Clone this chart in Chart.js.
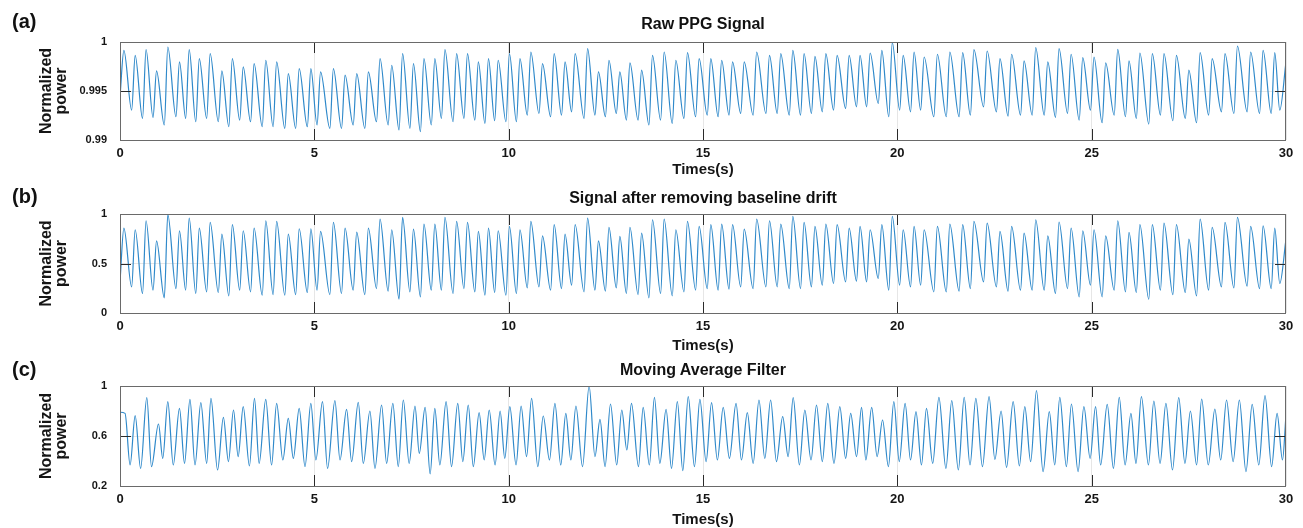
<!DOCTYPE html>
<html>
<head>
<meta charset="utf-8">
<script src="https://cdn.jsdelivr.net/npm/chart.js@4.4.1/dist/chart.umd.min.js"></script>
<style>
  body { margin: 0; background: #fff; }
  #wrap { position: relative; width: 1303px; height: 528px; background: #fff; overflow: hidden; }
  canvas { position: absolute; left: 0; }
  .lbl { position: absolute; left: 12px; font: bold 20px "Liberation Sans", Arial, sans-serif; line-height: 24px; color: #111; }
  .ttl { position: absolute; left: 120px; width: 1166px; text-align: center; font: bold 16px "Liberation Sans", Arial, sans-serif; line-height: 20px; color: #111; }
</style>
</head>
<body>
<div id="wrap">
  <canvas id="c1" width="1303" height="177" style="top:0;width:1303px;height:177px"></canvas>
  <canvas id="c2" width="1303" height="178" style="top:175px;width:1303px;height:178px"></canvas>
  <canvas id="c3" width="1303" height="177" style="top:350px;width:1303px;height:177px"></canvas>
  <div class="lbl" style="top:9px">(a)</div>
  <div class="lbl" style="top:184px">(b)</div>
  <div class="lbl" style="top:357px">(c)</div>
  <div class="ttl" style="top:14px">Raw PPG Signal</div>
  <div class="ttl" style="top:188px">Signal after removing baseline drift</div>
  <div class="ttl" style="top:360px">Moving Average Filter</div>
</div>
<script>
// x axis (seconds)
const timeTicks = [0, 5, 10, 15, 20, 25, 30];

// beat peaks / troughs (a) and (b) (same beats)
const rawPeakTimes = [
  0.10, 0.39, 0.67, 0.94, 1.23, 1.53, 1.78, 2.04, 2.32, 2.62,
  2.89, 3.17, 3.45, 3.75, 4.03, 4.33, 4.61, 4.91, 5.16, 5.49,
  5.79, 6.09, 6.39, 6.69, 6.99, 7.27, 7.55, 7.82, 8.10, 8.36,
  8.66, 8.94, 9.22, 9.48, 9.73, 10.02, 10.29, 10.57, 10.87, 11.17,
  11.45, 11.71, 12.03, 12.31, 12.58, 12.86, 13.12, 13.42, 13.70, 14.00,
  14.30, 14.60, 14.90, 15.20, 15.48, 15.76, 16.06, 16.38, 16.71, 17.00,
  17.31, 17.60, 17.88, 18.16, 18.45, 18.76, 19.04, 19.30, 19.60, 19.87,
  20.15, 20.43, 20.69, 21.03, 21.35, 21.68, 21.97, 22.31, 22.64, 22.94,
  23.26, 23.56, 23.87, 24.16, 24.47, 24.77, 25.06, 25.36, 25.67, 25.96,
  26.24, 26.56, 26.86, 27.18, 27.50, 27.79, 28.10, 28.43, 28.75, 29.09,
  29.41, 29.71
];
const rawTroughTimes = [
  0.30, 0.58, 0.85, 1.14, 1.44, 1.69, 1.95, 2.23, 2.53, 2.80,
  3.08, 3.36, 3.66, 3.94, 4.24, 4.52, 4.82, 5.07, 5.40, 5.70,
  6.00, 6.30, 6.60, 6.90, 7.18, 7.46, 7.73, 8.01, 8.27, 8.57,
  8.85, 9.13, 9.39, 9.64, 9.93, 10.20, 10.48, 10.78, 11.08, 11.36,
  11.62, 11.94, 12.22, 12.49, 12.77, 13.03, 13.33, 13.61, 13.91, 14.21,
  14.51, 14.81, 15.11, 15.39, 15.67, 15.97, 16.29, 16.62, 16.91, 17.22,
  17.51, 17.79, 18.07, 18.36, 18.67, 18.95, 19.21, 19.51, 19.78, 20.06,
  20.34, 20.60, 20.94, 21.26, 21.59, 21.88, 22.22, 22.55, 22.85, 23.17,
  23.47, 23.78, 24.07, 24.38, 24.68, 24.97, 25.27, 25.58, 25.87, 26.15,
  26.47, 26.77, 27.09, 27.41, 27.70, 28.01, 28.34, 28.66, 29.00, 29.32,
  29.62, 29.84
];

// (a) raw PPG
const rawEnds = [0.9944, 0.99797];
const rawPeaks = [
  0.99915, 0.99864, 0.99922, 0.99705, 0.99949, 0.99797, 0.99922, 0.99831, 0.99881, 0.99705,
  0.99831, 0.99746, 0.99780, 0.99814, 0.99797, 0.99678, 0.99729, 0.99729, 0.99695, 0.99729,
  0.99661, 0.99678, 0.99695, 0.99831, 0.99763, 0.99881, 0.99780, 0.99831, 0.99831,
  0.99922, 0.99881, 0.99881, 0.99797, 0.99831, 0.99814, 0.99881, 0.99831, 0.99898, 0.99780,
  0.99881, 0.99797, 0.99881, 0.99932, 0.99695, 0.99814, 0.99695, 0.99786, 0.99712, 0.99864,
  0.99898, 0.99814, 0.99892, 0.99831, 0.99831, 0.99814, 0.99797, 0.99797, 0.99898, 0.99864,
  0.99881, 0.99915, 0.99881, 0.99854, 0.99881, 0.99864, 0.99864, 0.99864,
  0.99888, 0.99915, 0.99995, 0.99864, 0.99898, 0.99847, 0.99875, 0.99898, 0.99892, 0.99922,
  0.99908, 0.99831, 0.99875, 0.99807, 0.99942, 0.99797, 0.99932, 0.99875, 0.99841, 0.99847,
  0.99786, 0.99925, 0.99807, 0.99888, 0.99881, 0.99881, 0.99864, 0.99712, 0.99892, 0.99831,
  0.99881, 0.99959, 0.99898, 0.99915, 0.99892
];
const rawTroughs = [
  0.99305, 0.99220, 0.99231, 0.99153, 0.99237, 0.99220, 0.99186, 0.99220, 0.99186, 0.99136,
  0.99203, 0.99186, 0.99136, 0.99136, 0.99119, 0.99119, 0.99136, 0.99153, 0.99119, 0.99119,
  0.99153, 0.99119, 0.99186, 0.99153, 0.99102, 0.99119, 0.99085, 0.99153,
  0.99220, 0.99186, 0.99220, 0.99203, 0.99169, 0.99197, 0.99186, 0.99186, 0.99254, 0.99271,
  0.99237, 0.99254, 0.99288, 0.99220, 0.99254, 0.99237, 0.99271, 0.99203, 0.99203, 0.99153,
  0.99203, 0.99169, 0.99220, 0.99237, 0.99254, 0.99237, 0.99254, 0.99271, 0.99254, 0.99271,
  0.99271, 0.99254, 0.99254, 0.99271, 0.99288, 0.99305, 0.99322, 0.99339,
  0.99339, 0.99373, 0.99237, 0.99305, 0.99288, 0.99305, 0.99237, 0.99237, 0.99237, 0.99254,
  0.99339, 0.99288, 0.99244, 0.99254, 0.99254, 0.99254, 0.99231, 0.99271, 0.99203, 0.99305,
  0.99176, 0.99254, 0.99237, 0.99220, 0.99163, 0.99254, 0.99197, 0.99220, 0.99176, 0.99254,
  0.99288, 0.99271, 0.99288, 0.99271, 0.99271, 0.99305
];

// (b) after removing baseline drift
const driftEnds = [0.315, 0.746];
const driftPeaks = [
  0.858, 0.841, 0.932, 0.729, 0.993, 0.831, 0.959, 0.858, 0.915, 0.797,
  0.892, 0.831, 0.858, 0.932, 0.925, 0.797, 0.851, 0.851, 0.824, 0.915,
  0.858, 0.817, 0.858, 0.949, 0.841, 0.966, 0.847, 0.898, 0.898,
  0.966, 0.925, 0.915, 0.824, 0.858, 0.831, 0.875, 0.841, 0.925, 0.780,
  0.892, 0.797, 0.892, 0.959, 0.729, 0.864, 0.773, 0.864, 0.807, 0.942,
  0.949, 0.841, 0.925, 0.875, 0.892, 0.898, 0.892, 0.847, 0.949, 0.932,
  0.898, 0.976, 0.915, 0.875, 0.898, 0.892, 0.858, 0.875,
  0.841, 0.892, 0.976, 0.841, 0.875, 0.841, 0.875, 0.898, 0.892, 0.925,
  0.908, 0.824, 0.875, 0.807, 0.942, 0.780, 0.919, 0.858, 0.831, 0.841,
  0.780, 0.932, 0.814, 0.892, 0.892, 0.908, 0.892, 0.746, 0.949, 0.864,
  0.915, 0.966, 0.875, 0.881, 0.858
];
const driftTroughs = [
  0.264, 0.197, 0.231, 0.153, 0.247, 0.231, 0.197, 0.214, 0.207, 0.173,
  0.231, 0.214, 0.180, 0.186, 0.180, 0.186, 0.207, 0.231, 0.186, 0.197,
  0.231, 0.186, 0.247, 0.220, 0.139, 0.214, 0.163, 0.231,
  0.231, 0.197, 0.247, 0.214, 0.180, 0.207, 0.180, 0.197, 0.254, 0.264,
  0.231, 0.247, 0.281, 0.214, 0.231, 0.220, 0.254, 0.197, 0.186, 0.153,
  0.197, 0.173, 0.214, 0.231, 0.247, 0.231, 0.241, 0.264, 0.247, 0.264,
  0.264, 0.247, 0.247, 0.264, 0.281, 0.298, 0.315, 0.322,
  0.315, 0.349, 0.231, 0.281, 0.264, 0.281, 0.214, 0.214, 0.220, 0.247,
  0.315, 0.264, 0.220, 0.231, 0.231, 0.231, 0.197, 0.247, 0.163, 0.281,
  0.163, 0.231, 0.214, 0.207, 0.139, 0.231, 0.186, 0.207, 0.173, 0.231,
  0.264, 0.254, 0.271, 0.247, 0.247, 0.298
];

// (c) moving average filter
const avgEnds = [0.79, 0.768];
const avgPeakTimes = [
  0.13, 0.39, 0.69, 0.99, 1.23, 1.53, 1.80, 2.08, 2.34, 2.66,
  2.92, 3.17, 3.46, 3.75, 4.03, 4.33, 4.61, 4.91, 5.21, 5.53,
  5.83, 6.13, 6.43, 6.73, 7.02, 7.29, 7.59, 7.85, 8.10,
  8.39, 8.69, 8.96, 9.24, 9.50, 9.78, 10.03, 10.32, 10.59, 10.89,
  11.19, 11.47, 11.73, 12.07, 12.35, 12.62, 12.91, 13.16, 13.46, 13.75,
  14.05, 14.34, 14.62, 14.92, 15.22, 15.52, 15.85, 16.14, 16.44, 16.74,
  17.05, 17.32, 17.62, 17.92, 18.21, 18.52, 18.80, 19.08,
  19.34, 19.62, 19.91, 20.20, 20.48, 20.75, 21.07, 21.40, 21.72, 22.02,
  22.36, 22.67, 22.98, 23.28, 23.58, 23.91, 24.18, 24.48, 24.80, 25.10,
  25.40, 25.71, 26.01, 26.28, 26.60, 26.91, 27.24, 27.54, 27.83, 28.17,
  28.47, 28.80, 29.13, 29.46, 29.77
];
const avgTroughTimes = [
  0.26, 0.53, 0.81, 1.10, 1.37, 1.66, 1.93, 2.23, 2.51, 2.79,
  3.04, 3.33, 3.58, 3.90, 4.19, 4.46, 4.76, 5.04, 5.34, 5.66,
  5.96, 6.26, 6.56, 6.86, 7.16, 7.44, 7.70, 7.98,
  8.23, 8.53, 8.82, 9.09, 9.37, 9.65, 9.90, 10.19, 10.46, 10.75,
  11.05, 11.34, 11.60, 11.90, 12.22, 12.48, 12.78, 13.04, 13.34, 13.62,
  13.89, 14.19, 14.48, 14.78, 15.08, 15.37, 15.68, 15.99, 16.29, 16.59,
  16.89, 17.19, 17.48, 17.78, 18.07, 18.37, 18.67, 18.95,
  19.19, 19.48, 19.77, 20.05, 20.34, 20.62, 20.91, 21.25, 21.57, 21.87,
  22.19, 22.51, 22.81, 23.14, 23.43, 23.75, 24.05, 24.35, 24.65, 24.96,
  25.23, 25.56, 25.86, 26.14, 26.46, 26.76, 27.08, 27.40, 27.70, 28.00,
  28.32, 28.64, 28.97, 29.30, 29.63, 29.91
];
const avgPeaks = [
  0.781, 0.763, 0.907, 0.696, 0.875, 0.821, 0.893, 0.867, 0.901, 0.749,
  0.808, 0.835, 0.901, 0.893, 0.861, 0.741, 0.821, 0.861, 0.875, 0.883,
  0.813, 0.869, 0.800, 0.848, 0.861, 0.888, 0.840, 0.829, 0.821,
  0.875, 0.861, 0.848, 0.787, 0.808, 0.800, 0.835, 0.840, 0.901, 0.760,
  0.861, 0.781, 0.840, 1.000, 0.733, 0.856, 0.808, 0.861, 0.829, 0.909,
  0.813, 0.875, 0.915, 0.893, 0.867, 0.829, 0.861, 0.787, 0.888, 0.888,
  0.755, 0.907, 0.808, 0.848, 0.861, 0.835, 0.781, 0.829,
  0.829, 0.728, 0.875, 0.861, 0.795, 0.821, 0.909, 0.883, 0.909, 0.901,
  0.915, 0.800, 0.875, 0.835, 0.963, 0.795, 0.909, 0.856, 0.835, 0.835,
  0.853, 0.909, 0.781, 0.915, 0.880, 0.861, 0.907, 0.800, 0.896, 0.816,
  0.888, 0.888, 0.853, 0.923, 0.781
];
const avgTroughs = [
  0.368, 0.341, 0.355, 0.421, 0.368, 0.381, 0.368, 0.381, 0.328, 0.395,
  0.435, 0.360, 0.381, 0.368, 0.408, 0.421, 0.355, 0.408, 0.341, 0.408,
  0.395, 0.381, 0.341, 0.381, 0.355, 0.381, 0.461, 0.296,
  0.368, 0.355, 0.395, 0.355, 0.408, 0.368, 0.421, 0.368, 0.435, 0.355,
  0.408, 0.368, 0.408, 0.355, 0.435, 0.355, 0.368, 0.488, 0.355, 0.368,
  0.381, 0.341, 0.323, 0.355, 0.395, 0.408, 0.421, 0.408, 0.381, 0.421,
  0.395, 0.435, 0.368, 0.408, 0.395, 0.381, 0.421, 0.435,
  0.408, 0.435, 0.355, 0.395, 0.408, 0.368, 0.381, 0.341, 0.328, 0.368,
  0.355, 0.413, 0.349, 0.360, 0.395, 0.315, 0.368, 0.355, 0.315, 0.421,
  0.368, 0.341, 0.368, 0.381, 0.368, 0.381, 0.328, 0.381, 0.368, 0.368,
  0.408, 0.395, 0.315, 0.368, 0.355, 0.408
];

const rawTicks = [0.99, 0.995, 1];
const driftTicks = [0, 0.5, 1];
const avgTicks = [0.2, 0.6, 1];

const FONT = '"Liberation Sans", Arial, sans-serif';
const lineColor = '#2f89ca';

function buildSeries(ends, peakT, peakV, troughT, troughV) {
  const pts = [{ x: 0, y: ends[0] }];
  for (let i = 0; i < peakT.length; i++) {
    pts.push({ x: peakT[i], y: peakV[i] });
    pts.push({ x: troughT[i], y: troughV[i] });
  }
  pts.push({ x: 30, y: ends[1] });
  return pts;
}

// MATLAB-like box with inward tick marks
const framePlugin = {
  id: 'frame',
  afterDraw(chart) {
    const { ctx, chartArea: a, scales } = chart;
    const tl = 11;
    ctx.save();
    ctx.strokeStyle = '#2b2b2b';
    ctx.lineWidth = 1;
    scales.x.ticks.forEach(t => {
      if (t.value <= 0 || t.value >= 30) return;
      const px = Math.round(scales.x.getPixelForValue(t.value)) + 0.5;
      ctx.beginPath();
      ctx.moveTo(px, a.bottom); ctx.lineTo(px, a.bottom - tl);
      ctx.moveTo(px, a.top); ctx.lineTo(px, a.top + tl);
      ctx.stroke();
    });
    const yt = scales.y.ticks;
    yt.slice(1, -1).forEach(t => {
      const py = Math.round(scales.y.getPixelForValue(t.value)) + 0.5;
      ctx.beginPath();
      ctx.moveTo(a.left, py); ctx.lineTo(a.left + tl, py);
      ctx.moveTo(a.right, py); ctx.lineTo(a.right - tl, py);
      ctx.stroke();
    });
    ctx.strokeStyle = '#6a6a6a';
    ctx.strokeRect(Math.round(a.left) + 0.5, Math.round(a.top) + 0.5,
      Math.round(a.right - a.left) - 1, Math.round(a.bottom - a.top));
    ctx.restore();
  }
};

function makePanel(id, points, yTicks, plotTop, plotBottom, canvasH) {
  const ctx = document.getElementById(id).getContext('2d');
  return new Chart(ctx, {
    type: 'line',
    data: {
      datasets: [{
        data: points,
        borderColor: lineColor,
        borderWidth: 1.2,
        pointRadius: 0,
        fill: false,
        cubicInterpolationMode: 'monotone'
      }]
    },
    options: {
      responsive: false,
      animation: false,
      devicePixelRatio: 1,
      layout: { padding: { left: 39, right: 17, top: plotTop, bottom: 0 } },
      plugins: { legend: { display: false }, tooltip: { enabled: false } },
      scales: {
        x: {
          type: 'linear',
          min: 0,
          max: 30,
          afterBuildTicks: s => { s.ticks = timeTicks.map(v => ({ value: v })); },
          afterFit: s => { s.height = canvasH - plotBottom; },
          grid: { color: '#e6e6e6', drawTicks: false },
          border: { display: false },
          ticks: {
            padding: 6,
            maxRotation: 0,
            color: '#151515',
            font: { family: FONT, size: 13, weight: 'bold' },
            callback: v => String(v)
          },
          title: {
            display: true,
            text: 'Times(s)',
            color: '#151515',
            padding: { top: 0, bottom: 0 },
            font: { family: FONT, size: 15, weight: 'bold', lineHeight: 1 }
          }
        },
        y: {
          min: yTicks[0],
          max: yTicks[yTicks.length - 1],
          afterBuildTicks: s => { s.ticks = yTicks.map(v => ({ value: v })); },
          afterFit: s => { s.width = 81; },
          grid: { color: '#e6e6e6', drawTicks: false },
          border: { display: false },
          ticks: {
            padding: 13,
            color: '#151515',
            font: { family: FONT, size: 11, weight: 'bold' },
            callback: v => String(v)
          },
          title: {
            display: true,
            text: ['Normalized', 'power'],
            color: '#151515',
            padding: { top: 0, bottom: 0 },
            font: { family: FONT, size: 16, weight: 'bold', lineHeight: '15px' }
          }
        }
      }
    },
    plugins: [framePlugin]
  });
}

makePanel('c1', buildSeries(rawEnds, rawPeakTimes, rawPeaks, rawTroughTimes, rawTroughs),
  rawTicks, 42, 140, 177);
makePanel('c2', buildSeries(driftEnds, rawPeakTimes, driftPeaks, rawTroughTimes, driftTroughs),
  driftTicks, 39, 138, 178);
makePanel('c3', buildSeries(avgEnds, avgPeakTimes, avgPeaks, avgTroughTimes, avgTroughs),
  avgTicks, 36, 136, 177);
</script>
</body>
</html>
